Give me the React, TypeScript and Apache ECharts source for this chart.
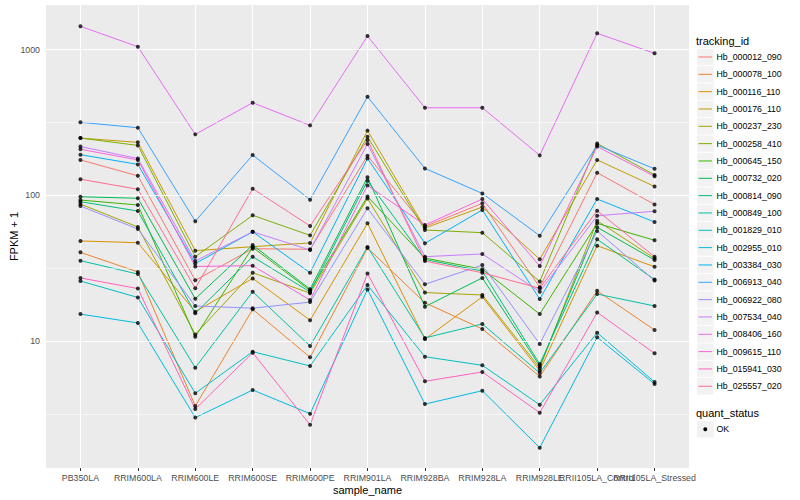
import React, { useEffect, useRef } from "react";
import * as echarts from "echarts";

const samples = [
  "PB350LA", "RRIM600LA", "RRIM600LE", "RRIM600SE", "RRIM600PE", "RRIM901LA",
  "RRIM928BA", "RRIM928LA", "RRIM928LE", "RRII105LA_Control", "RRII105LA_Stressed",
];

const trackingIds = [
  "Hb_000012_090", "Hb_000078_100", "Hb_000116_110", "Hb_000176_110", "Hb_000237_230",
  "Hb_000258_410", "Hb_000645_150", "Hb_000732_020", "Hb_000814_090", "Hb_000849_100",
  "Hb_001829_010", "Hb_002955_010", "Hb_003384_030", "Hb_006913_040", "Hb_006922_080",
  "Hb_007534_040", "Hb_008406_160", "Hb_009615_110", "Hb_015941_030", "Hb_025557_020",
];

// FPKM + 1 per sample, one array per tracking_id
const hb000012_090 = [175, 136, 26.1, 43.0, 42.6, 187, 61.1, 88.1, 23.4, 143, 86.5];
const hb000078_100 = [40.6, 29.8, 3.58, 16.5, 7.73, 43.5, 18.3, 12.1, 5.71, 22.1, 11.9];
const hb000116_110 = [48.6, 47.3, 15.9, 26.9, 13.9, 64.2, 10.3, 20.1, 6.27, 45.1, 32.3];
const hb000176_110 = [247, 231, 41.7, 44.4, 47.1, 278, 59.6, 83.1, 36.4, 175, 115];
const hb000237_230 = [87.1, 60.6, 11.1, 29.4, 21.3, 95.1, 21.5, 20.7, 6.53, 66.9, 36.9];
const hb000258_410 = [247, 220, 37.9, 72.9, 53.1, 252, 57.8, 55.4, 25.6, 227, 138];
const hb000645_150 = [92.8, 85.8, 10.7, 44.0, 22.2, 98.1, 37.1, 31.1, 15.3, 64.2, 49.1];
const hb000732_020 = [97.8, 95.4, 19.5, 45.6, 22.7, 133, 17.2, 27.1, 6.74, 60.3, 36.0];
const hb000814_090 = [90.4, 78.0, 15.5, 37.9, 21.7, 126, 36.3, 30.2, 6.95, 49.9, 26.4];
const hb000849_100 = [35.6, 28.8, 6.56, 21.8, 9.24, 44.2, 10.5, 13.1, 6.03, 21.0, 17.4];
const hb001829_010 = [25.8, 19.9, 4.38, 8.45, 6.74, 24.2, 7.80, 6.81, 3.65, 11.4, 5.23];
const hb002955_010 = [15.3, 13.3, 2.98, 4.61, 3.17, 22.6, 3.69, 4.56, 1.85, 10.6, 5.07];
const hb003384_030 = [190, 163, 34.0, 56.2, 29.4, 179, 46.8, 79.3, 19.4, 94.3, 65.6];
const hb006913_040 = [317, 291, 66.3, 189, 93.3, 475, 153, 103, 52.8, 221, 152];
const hb006922_080 = [84.4, 58.7, 17.4, 16.8, 18.5, 81.4, 24.5, 33.2, 9.54, 56.9, 26.0];
const hb007534_040 = [216, 179, 35.4, 56.2, 42.1, 225, 37.9, 39.6, 21.8, 72.4, 77.7];
const hb008406_160 = [1445, 1047, 262, 432, 302, 1240, 399, 399, 188, 1294, 943];
const hb009615_110 = [207, 175, 32.5, 32.9, 19.1, 117, 62.5, 94.3, 32.7, 216, 135];
const hb015941_030 = [27.1, 22.9, 3.41, 8.31, 2.66, 29.1, 5.29, 6.13, 3.22, 15.7, 8.23];
const hb025557_020 = [129, 110, 23.0, 111, 61.6, 240, 35.4, 29.4, 23.0, 78.4, 37.9];

const seriesValues = [
  hb000012_090, hb000078_100, hb000116_110, hb000176_110, hb000237_230,
  hb000258_410, hb000645_150, hb000732_020, hb000814_090, hb000849_100,
  hb001829_010, hb002955_010, hb003384_030, hb006913_040, hb006922_080,
  hb007534_040, hb008406_160, hb009615_110, hb015941_030, hb025557_020,
];

const yTicks = [10, 100, 1000];
const yMinorTicks = [3.1623, 31.623, 316.23];

const palette = [
  "#F8766D", "#EA8331", "#D89000", "#C09B00", "#A3A500", "#7CAE00", "#39B600",
  "#00BB4E", "#00BF7D", "#00C1A3", "#00BFC4", "#00BAE0", "#00B0F6", "#35A2FF",
  "#9590FF", "#C77CFF", "#E76BF3", "#FA62DB", "#FF62BC", "#FF6C91",
];

const FONT = "'Liberation Sans', Arial, Helvetica, sans-serif";

export default function App() {
  const ref = useRef<HTMLDivElement>(null);

  useEffect(() => {
    document.body.style.margin = "0";
    if (!ref.current) return;
    const chart = echarts.init(ref.current, undefined, { renderer: "svg" });

    const xIdx = samples.map((_, i) => i);
    // labels split over two axes so that ECharts does not hide overlapping ones
    const xLabelsA = xIdx.filter((i) => i % 2 === 0);
    const xLabelsB = xIdx.filter((i) => i % 2 === 1);

    const gridLines: any[] = [
      ...yMinorTicks.map((v) => ({ yAxis: v, lineStyle: { color: "#FFFFFF", width: 0.55, type: "solid" } })),
      ...yTicks.map((v) => ({ yAxis: v, lineStyle: { color: "#FFFFFF", width: 1.1, type: "solid" } })),
      ...xIdx.map((v) => ({ xAxis: v, lineStyle: { color: "#FFFFFF", width: 1.1, type: "solid" } })),
    ];

    const lineSeries = seriesValues.map((vals, k) => ({
      name: trackingIds[k],
      type: "line",
      data: vals.map((v, i) => [i, v]),
      showSymbol: false,
      symbol: "none",
      lineStyle: { width: 1, color: palette[k] },
      itemStyle: { color: palette[k] },
      emphasis: { disabled: true },
      silent: true,
      z: 3,
    }));

    const points: number[][] = [];
    seriesValues.forEach((vals) => vals.forEach((v, i) => points.push([i, v])));

    const legendEls: any[] = [];
    legendEls.push({
      type: "text", x: 696, y: 41,
      style: { text: "tracking_id", fontSize: 11, fontFamily: FONT, fill: "#000000", verticalAlign: "middle", align: "left" },
    });
    trackingIds.forEach((id, i) => {
      const cy = 57 + i * 17.33;
      legendEls.push({ type: "rect", shape: { x: 697, y: cy - 8.2, width: 16.6, height: 16.4 }, style: { fill: "#F2F2F2" } });
      legendEls.push({ type: "line", shape: { x1: 698.5, y1: cy, x2: 712, y2: cy }, style: { stroke: palette[i], lineWidth: 1 } });
      legendEls.push({
        type: "text", x: 716.5, y: cy,
        style: { text: id, fontSize: 8.8, fontFamily: FONT, fill: "#000000", verticalAlign: "middle", align: "left" },
      });
    });
    legendEls.push({
      type: "text", x: 696, y: 412.5,
      style: { text: "quant_status", fontSize: 11, fontFamily: FONT, fill: "#000000", verticalAlign: "middle", align: "left" },
    });
    legendEls.push({ type: "rect", shape: { x: 697, y: 429.3 - 8.2, width: 16.6, height: 16.4 }, style: { fill: "#F2F2F2" } });
    legendEls.push({ type: "circle", shape: { cx: 705.3, cy: 429.3, r: 2 }, style: { fill: "#000000" } });
    legendEls.push({
      type: "text", x: 716.5, y: 429.3,
      style: { text: "OK", fontSize: 8.8, fontFamily: FONT, fill: "#000000", verticalAlign: "middle", align: "left" },
    });

    const labelStyle = {
      formatter: (v: number) => samples[Math.round(v)] ?? "",
      fontSize: 8.8, color: "#4D4D4D", margin: 5, fontFamily: FONT,
      showMinLabel: true, showMaxLabel: true, hideOverlap: false,
    };

    chart.setOption({
      animation: false,
      textStyle: { fontFamily: FONT },
      grid: {
        left: 45, top: 5, width: 644, height: 463,
        show: true, backgroundColor: "#EBEBEB", borderWidth: 0, containLabel: false,
      },
      xAxis: [
        {
          type: "value",
          min: -0.6,
          max: 10.6,
          position: "bottom",
          name: "sample_name",
          nameLocation: "middle",
          nameGap: 16,
          nameMoveOverlap: false,
          nameTextStyle: { fontSize: 11, color: "#000000", fontFamily: FONT },
          axisLine: { show: false },
          axisTick: { show: true, length: 3, customValues: xIdx, lineStyle: { color: "#333333", width: 1 } },
          axisLabel: { ...labelStyle, customValues: xLabelsA },
          splitLine: { show: false },
        },
        {
          type: "value",
          min: -0.6,
          max: 10.6,
          position: "bottom",
          offset: 0,
          axisLine: { show: false },
          axisTick: { show: false },
          axisLabel: { ...labelStyle, customValues: xLabelsB },
          splitLine: { show: false },
        },
      ],
      yAxis: {
        type: "log",
        logBase: 10,
        min: 1.344,
        max: 2024,
        name: "FPKM + 1",
        nameLocation: "middle",
        nameGap: 27,
        nameMoveOverlap: false,
        nameTextStyle: { fontSize: 11, color: "#000000", fontFamily: FONT },
        axisLine: { show: false },
        axisTick: { show: true, length: 3, customValues: yTicks, lineStyle: { color: "#333333", width: 1 } },
        axisLabel: {
          customValues: yTicks,
          formatter: (v: number) => String(Math.round(v)),
          fontSize: 8.8, color: "#4D4D4D", margin: 6, fontFamily: FONT,
        },
        splitLine: { show: false },
        minorSplitLine: { show: false },
      },
      series: [
        {
          name: "grid",
          type: "line",
          data: [],
          silent: true,
          z: 1,
          markLine: {
            silent: true,
            symbol: ["none", "none"],
            label: { show: false },
            emphasis: { disabled: true },
            data: gridLines,
          },
        },
        ...lineSeries,
        {
          name: "OK",
          type: "scatter",
          data: points,
          symbol: "circle",
          symbolSize: 4,
          itemStyle: { color: "#000000" },
          silent: true,
          z: 5,
        },
      ],
      graphic: legendEls,
    });

    return () => {
      chart.dispose();
    };
  }, []);

  return <div ref={ref} style={{ width: 800, height: 500 }} />;
}
